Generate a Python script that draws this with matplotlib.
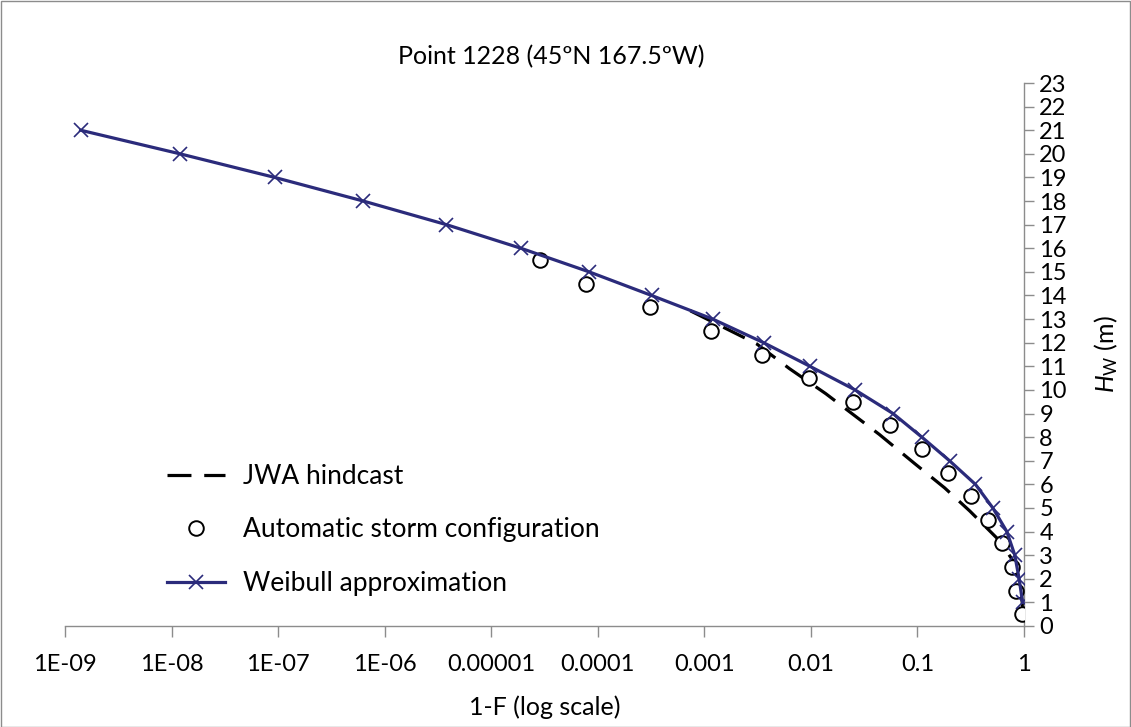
import matplotlib
matplotlib.use('Agg')
import matplotlib.pyplot as plt
from matplotlib.patches import Rectangle

plt.rcParams['font.family'] = ['Lato', 'DejaVu Sans']
plt.rcParams['mathtext.fontset'] = 'custom'
plt.rcParams['mathtext.rm'] = 'Lato'
plt.rcParams['mathtext.it'] = 'Lato:italic'

# ---- data ----
weibull_h = [21, 20, 19, 18, 17, 16, 15, 14, 13, 12, 11, 10, 9, 8, 7, 6, 5, 4, 3, 2, 1]
weibull_p = [1.4e-9, 1.2e-8, 9.3e-8, 6.3e-7, 3.8e-6, 1.9e-5, 8.3e-5, 3.2e-4, 1.2e-3,
             3.6e-3, 9.8e-3, 0.026, 0.059, 0.11, 0.20, 0.35, 0.51, 0.69, 0.82, 0.90, 0.97]

storm_h = [15.5, 14.5, 13.5, 12.5, 11.5, 10.5, 9.5, 8.5, 7.5, 6.5, 5.5, 4.5, 3.5, 2.5, 1.5, 0.5]
storm_p = [2.9e-5, 7.8e-5, 3.1e-4, 1.15e-3, 3.5e-3, 9.5e-3, 0.025, 0.055, 0.11, 0.195,
           0.32, 0.46, 0.62, 0.77, 0.85, 0.95]

jwa_h = [13.35, 11.95, 10.9, 9.84, 8.11, 6.9, 5.85, 4.87, 3.61, 2.65, 1.23, 0.6]
jwa_p = [7.4e-4, 3.1e-3, 6.3e-3, 0.0138, 0.044, 0.093, 0.18, 0.31, 0.59, 0.82, 0.95, 0.984]

xticks = [1e-9, 1e-8, 1e-7, 1e-6, 1e-5, 1e-4, 1e-3, 1e-2, 1e-1, 1]
xticklabels = ['1E-09', '1E-08', '1E-07', '1E-06', '0.00001', '0.0001', '0.001', '0.01', '0.1', '1']
navy = '#2b2b7b'
fs_tick = 17
fs_text = 18
fs_leg = 19
#============================================================================================
fig = plt.figure(figsize=(11.31, 7.27), dpi=100)
W, H = 1131, 727
ax = fig.add_axes([65 / W, 1 - 626 / H, (1024 - 65) / W, (626 - 83) / H])

ax.plot(jwa_p, jwa_h, color='black', lw=2.3, dashes=(7.5, 4), label='JWA hindcast', zorder=2)
ax.plot(storm_p, storm_h, ls='none', marker='o', ms=10.5, mfc='white', mec='black', mew=1.4,
        label='Automatic storm configuration', zorder=3)
ax.plot(weibull_p, weibull_h, color=navy, lw=2.3, marker='x', ms=10, mew=1.2,
        label='Weibull approximation', zorder=4)

ax.set_xscale('log')
ax.set_xlim(1e-9, 1)
ax.set_ylim(0, 23)
ax.set_xticks(xticks)
ax.set_xticklabels(xticklabels)
ax.minorticks_off()
ax.set_yticks(range(0, 24))

for s in ['top', 'left']:
    ax.spines[s].set_visible(False)
for s in ['bottom', 'right']:
    ax.spines[s].set_color('#8c8c8c')
    ax.spines[s].set_linewidth(1.0)
ax.yaxis.tick_right()
ax.yaxis.set_label_position('right')
ax.tick_params(axis='x', direction='out', length=8, width=1, color='#8c8c8c', pad=12,
               labelsize=fs_tick)
ax.tick_params(axis='y', direction='out', length=7, width=1, color='#8c8c8c', pad=4,
               labelsize=fs_tick)
ax.set_xlabel('1-F (log scale)', fontsize=fs_text, labelpad=15)
ax.set_ylabel(r'$H_{\mathrm{W}}$ (m)', fontsize=fs_text, labelpad=18)
ax.patch.set_visible(False)

fig.text(551 / W, 1 - 57 / H, 'Point 1228 (45ºN 167.5ºW)', fontsize=fs_text, ha='center', va='center')

leg = ax.legend(loc='upper left', bbox_to_anchor=(78 / (1024 - 65), (626 - 440) / (626 - 83)),
                frameon=False, fontsize=fs_leg, handlelength=2.2, labelspacing=1.08,
                handletextpad=0.7)

fig.add_artist(Rectangle((0.5 / W, 0.5 / H), 1 - 1.5 / W, 1 - 1.5 / H, transform=fig.transFigure,
                         fill=False, edgecolor='#8c8c8c', lw=1))

fig.savefig('out.png', dpi=100)
